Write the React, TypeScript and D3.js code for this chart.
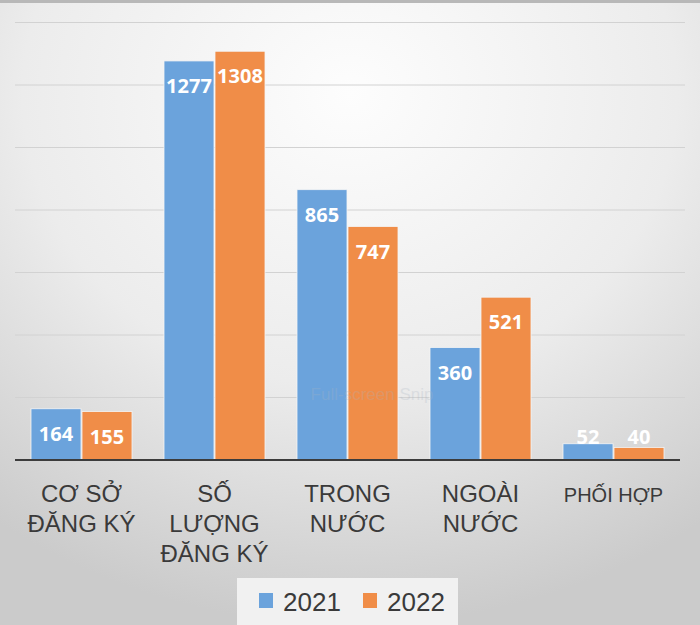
import React, { useEffect } from "react";
import * as d3 from "d3";

const categories: string[][] = [
  ["CƠ SỞ", "ĐĂNG KÝ"],
  ["SỐ", "LƯỢNG", "ĐĂNG KÝ"],
  ["TRONG", "NƯỚC"],
  ["NGOÀI", "NƯỚC"],
  ["PHỐI HỢP"],
];
const series = ["2021", "2022"];
const values2021 = [164, 1277, 865, 360, 52];
const values2022 = [155, 1308, 747, 521, 40];
const yTicks = [0, 200, 400, 600, 800, 1000, 1200, 1400];

const W = 700;
const H = 625;
const colors = ["#6ba3dc", "#f08d48"];

export default function App() {
  useEffect(() => {
    document.body.style.margin = "0";
  }, []);

  const x = d3.scaleBand<number>().domain(d3.range(categories.length)).range([15, 680]).paddingInner(0).paddingOuter(0);
  const y = d3.scaleLinear().domain([0, 1400]).range([460, 22.5]);
  const barW = 50;
  const data = [values2021, values2022];

  return (
    <svg width={W} height={H} style={{ display: "block" }}>
      <defs>
        <radialGradient id="bg" cx="50%" cy="15%" r="85%">
          <stop offset="0%" stopColor="#fdfdfd" />
          <stop offset="55%" stopColor="#ececec" />
          <stop offset="100%" stopColor="#cbcbcb" />
        </radialGradient>
      </defs>
      <rect x={0} y={0} width={W} height={H} fill="url(#bg)" />
      <rect x={0} y={0} width={W} height={3} fill="#b8b8b8" />
      {yTicks.slice(1).map((t) => (
        <line key={t} x1={15} x2={685} y1={y(t)} y2={y(t)} stroke="#d2d2d2" strokeWidth={1} />
      ))}
      {categories.map((_, i) => {
        const cx = (x(i) as number) + x.bandwidth() / 2;
        return data.map((vals, s) => {
          const bx = s === 0 ? cx - barW - 0.5 : cx + 0.5;
          const top = y(vals[i]);
          const ly = Math.min(top + 25, y(0) - 23);
          return (
            <g key={`${i}-${s}`}>
              <rect x={bx} y={top} width={barW} height={y(0) - top} fill={colors[s]} stroke="#f4f4f4" strokeWidth={0.8} />
              <text x={bx + barW / 2} y={ly} dy="0.36em" textAnchor="middle" fontFamily="Noto Sans, sans-serif" fontWeight="bold" fontSize={20} fill="#ffffff">
                {vals[i]}
              </text>
            </g>
          );
        });
      })}
      <text x={372} y={400} textAnchor="middle" fontFamily="Liberation Sans, Arial, sans-serif" fontSize={17} fill="#a9b4c2" opacity={0.25}>
        Full-screen Snip
      </text>
      <line x1={15} x2={680} y1={y(0)} y2={y(0)} stroke="#3c3c3c" strokeWidth={2} />
      {categories.map((lines, i) => {
        const cx = (x(i) as number) + x.bandwidth() / 2;
        const fs = lines.length === 1 ? 20 : 24;
        return (
          <text key={i} textAnchor="middle" fontFamily="Liberation Sans, Arial, sans-serif" fontSize={fs} fill="#3a3a3a">
            {lines.map((l, k) => (
              <tspan key={k} x={cx} y={502 + k * 30}>
                {l}
              </tspan>
            ))}
          </text>
        );
      })}
      <rect x={237} y={578} width={221} height={47} fill="#f1f1f1" />
      {series.map((s, k) => (
        <g key={s} transform={`translate(${259 + k * 104},0)`}>
          <rect x={0} y={593} width={14} height={15} fill={colors[k]} />
          <text x={24} y={611} fontFamily="Liberation Sans, Arial, sans-serif" fontSize={26} fill="#3a3a3a">
            {s}
          </text>
        </g>
      ))}
    </svg>
  );
}
